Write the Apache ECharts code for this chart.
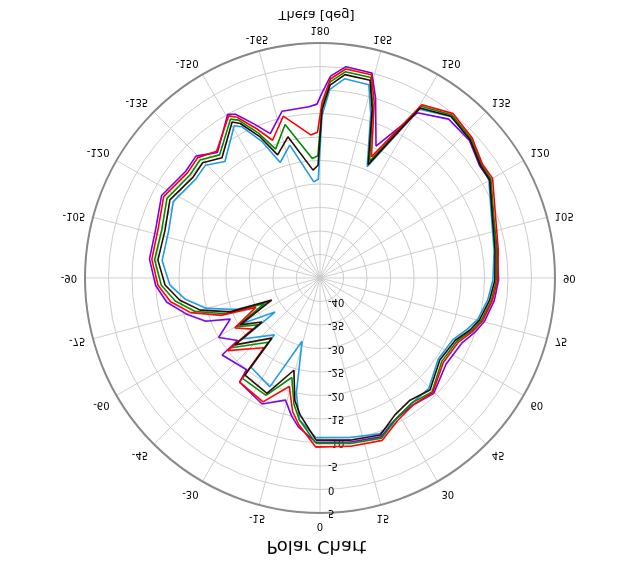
<!DOCTYPE html>
<html><head><meta charset="utf-8">
<script src="https://cdn.jsdelivr.net/npm/echarts@6/dist/echarts.min.js"></script>
<style>html,body{margin:0;background:#fff}#c{width:633px;height:586px;transform:scaleY(-1)}</style>
</head><body><div id="c"></div>
<script>
const angles = [-1.4,10.5,21,28.7,36.4,44.5,55.6,65.3,70.9,75.3,82.6,89.3,99,110,120,125,132.6,141,149.5,157,162.8,165.8,173,177,179.3,-179,-176.3,-167.2,-161,-157,-152.7,-150.6,-140.8,-134.5,-128.5,-117.5,-107,-96.3,-87.4,-81,-75,-69.3,-65.4,-59.6,-52.8,-51.8,-38.7,-37.7,-24.7,-15.8,-11.6,-8.3,-1.4];
const black = [-10.5,-9.9,-9.2,-11.8,-12.7,-11.6,-14.1,-13.3,-11.2,-9.9,-8.6,-7.8,-7.3,-6,-3.3,-3.3,-1.6,-0.7,-3,-18.8,-7.5,-1.6,-1.4,-3.9,-9.2,-21,-22,-14.2,-17.3,-12.4,-8,-6.9,-12,-10,-10.5,-9,-10.5,-10.3,-12,-14.8,-18.6,-24.6,-33.7,-25.3,-29.5,-22,-28.6,-18.9,-18,-24.6,-18.4,-15.6,-10.5];
const red = [-9,-8.6,-8,-10.5,-11.5,-10.8,-13.2,-12.5,-10.5,-9.2,-8,-7.2,-6.6,-5.3,-2.6,-2.8,-1,0,-2.2,-17,-6,-0.4,-0.2,-2.6,-7.5,-14,-14.5,-9.7,-14,-10.5,-6.5,-5.4,-10.2,-8.5,-9,-7.5,-9,-9,-10.5,-12.8,-16.5,-22.5,-30,-24,-27,-20,-26,-17,-16,-21,-16,-13.5,-9];
const green = [-9.8,-9.2,-8.5,-11,-12,-11,-13.6,-12.9,-10.8,-9.5,-8.2,-7.5,-7,-5.7,-3,-3,-1.3,-0.4,-2.6,-18,-7,-1,-0.8,-3.2,-8.4,-19,-19.5,-11.5,-16,-11.5,-7.2,-6.2,-11.2,-9.2,-9.7,-8.3,-9.8,-9.6,-11.2,-13.8,-17.5,-23.5,-32,-24.5,-28.5,-21,-27.5,-18,-17.5,-23,-17.5,-14.5,-9.8];
const blue = [-11,-10.5,-9.5,-11,-12,-12,-14.5,-13.8,-11.8,-10.3,-9,-8.2,-7.5,-6.2,-3.5,-3.2,-1.5,-0.8,-3.3,-19.3,-8.5,-2.6,-2.3,-4.8,-10.5,-24,-24.5,-16,-19,-13.5,-8.8,-7.8,-13,-10.8,-11.2,-9.8,-11.3,-11.2,-13,-16,-20,-26,-33,-26,-33,-24,-29.5,-21,-19.5,-31,-20,-14.5,-11];
const purple = [-10,-9.5,-8.8,-11,-11.5,-10.5,-12.5,-11.8,-10,-8.8,-7.6,-7,-6.8,-5.8,-3.3,-3.5,-1.8,-1.5,-4.2,-14.5,-5,0,0.3,-2,-5.5,-8,-8.5,-8.6,-12.5,-9.5,-5.8,-5,-10.5,-8,-8.5,-7,-8.5,-8.5,-10,-12,-15.5,-19,-24,-20,-23,-18.5,-20,-17,-15.5,-18,-15,-13,-10];
const seriesDefs = [['blue',blue,'#1e9be6'],['purple',purple,'#7a00e6'],['green',green,'#008a00'],['red',red,'#ff0000'],['black',black,'#2a0a00']];
const chart = echarts.init(document.getElementById('c'));
const ff = 'DejaVu Sans';
chart.setOption({
  animation:false,
  title:[{text:'Polar Chart',left:'center',top:26,textStyle:{fontFamily:ff,fontSize:18,fontWeight:'normal',color:'#000'}},
         {text:'Theta [deg]',left:'center',top:560,textStyle:{fontFamily:ff,fontSize:13,fontWeight:'normal',color:'#000'}}],
  polar:{center:[320,308],radius:235},
  angleAxis:{type:'value',min:0,max:360,interval:15,startAngle:90,clockwise:true,
    axisLine:{lineStyle:{color:'#888',width:2}},axisTick:{show:false},
    axisLabel:{fontFamily:ff,fontSize:10,color:'#000',margin:8,formatter:v=>v===360?'':String(v>180?v-360:v)},
    splitLine:{lineStyle:{color:'#ccc',width:1}}},
  radiusAxis:{type:'value',min:-45,max:5,interval:5,axisLine:{show:false},axisTick:{show:false},
    axisLabel:{fontFamily:ff,fontSize:10,color:'#000',align:'left',margin:-8,formatter:v=>v===-45?'':String(v)},
    splitLine:{lineStyle:{color:'#ccc',width:1}}},
  series:seriesDefs.map(([n,d,c])=>({type:'line',coordinateSystem:'polar',name:n,symbol:'none',
    lineStyle:{color:c,width:1.6},data:d.map((v,i)=>[v,(angles[i]+360)%360])}))
});
</script></body></html>
